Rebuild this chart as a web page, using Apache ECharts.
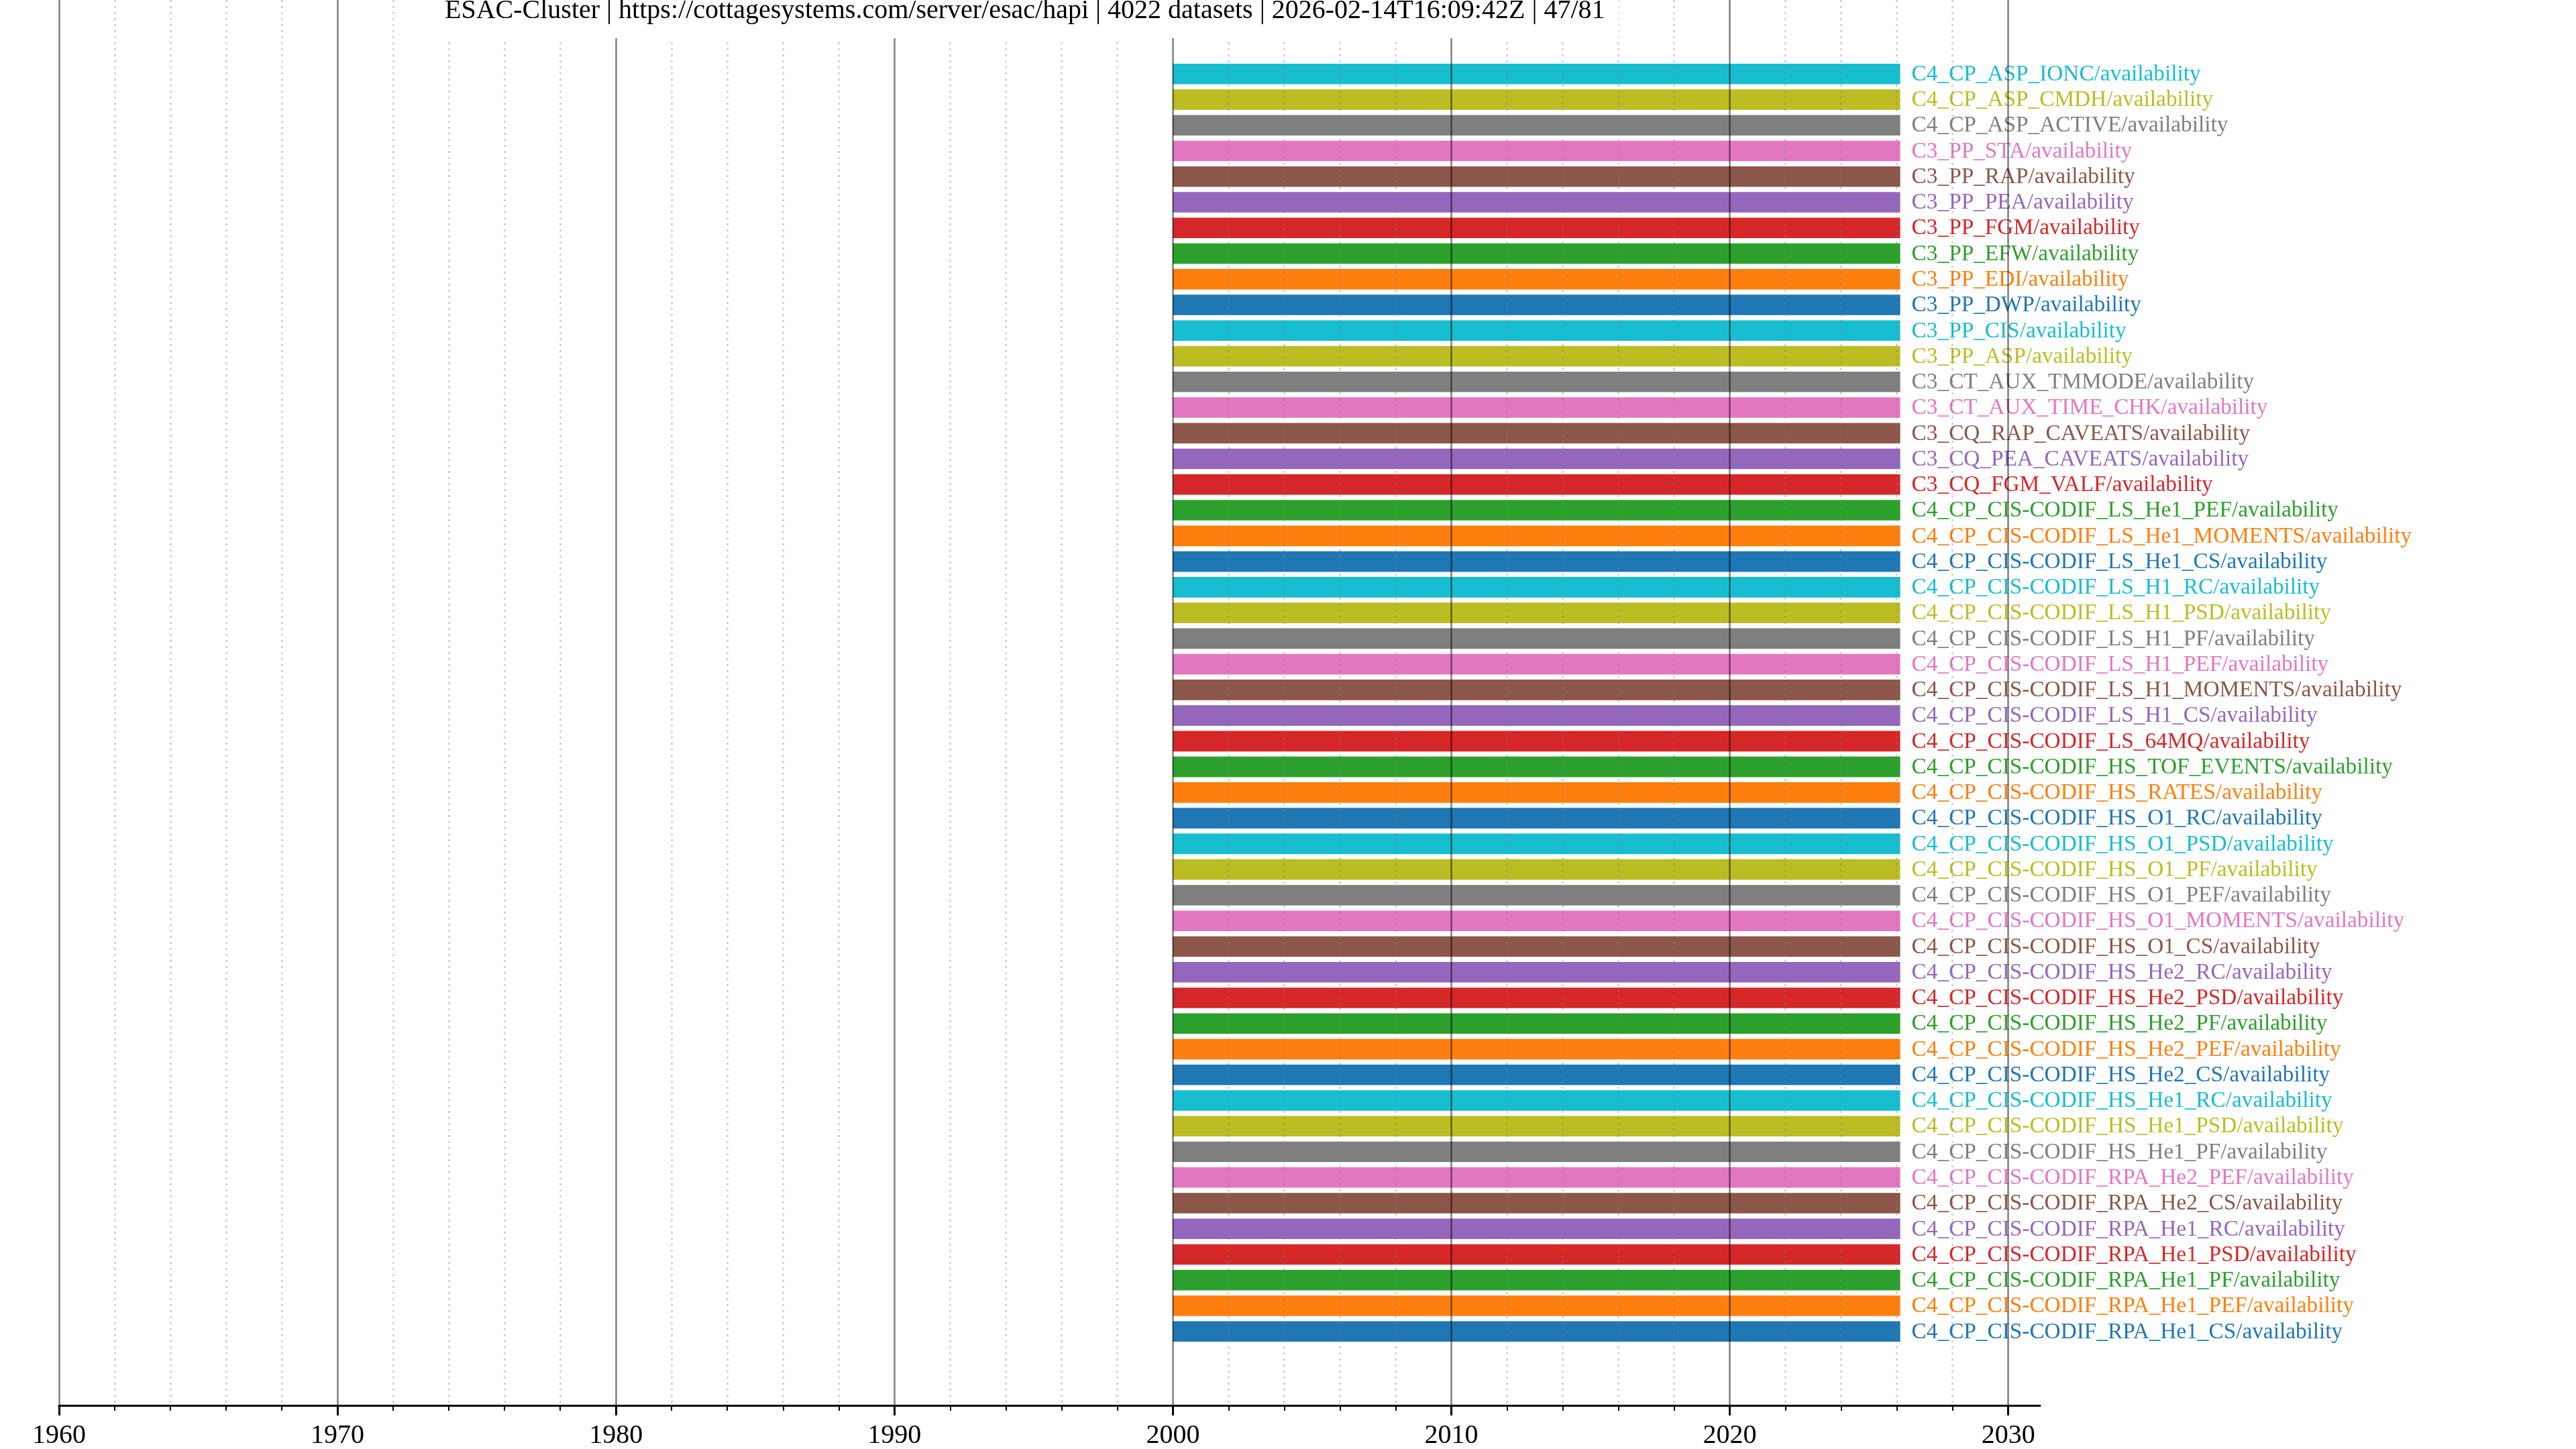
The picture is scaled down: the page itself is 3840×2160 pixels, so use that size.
<!DOCTYPE html>
<html>
<head>
<meta charset="utf-8">
<script src="https://cdn.jsdelivr.net/npm/echarts@6/dist/echarts.min.js"></script>
<style>
html,body{margin:0;padding:0;background:#fff;}
#chart{width:3840px;height:2160px;}
</style>
</head>
<body>
<div id="chart"></div>
<script>
// ---- data (top-to-bottom as displayed) ----
const titleText = 'ESAC-Cluster | https://cottagesystems.com/server/esac/hapi | 4022 datasets | 2026-02-14T16:09:42Z | 47/81';
const datasetNames = [
  'C4_CP_ASP_IONC/availability',
  'C4_CP_ASP_CMDH/availability',
  'C4_CP_ASP_ACTIVE/availability',
  'C3_PP_STA/availability',
  'C3_PP_RAP/availability',
  'C3_PP_PEA/availability',
  'C3_PP_FGM/availability',
  'C3_PP_EFW/availability',
  'C3_PP_EDI/availability',
  'C3_PP_DWP/availability',
  'C3_PP_CIS/availability',
  'C3_PP_ASP/availability',
  'C3_CT_AUX_TMMODE/availability',
  'C3_CT_AUX_TIME_CHK/availability',
  'C3_CQ_RAP_CAVEATS/availability',
  'C3_CQ_PEA_CAVEATS/availability',
  'C3_CQ_FGM_VALF/availability',
  'C4_CP_CIS-CODIF_LS_He1_PEF/availability',
  'C4_CP_CIS-CODIF_LS_He1_MOMENTS/availability',
  'C4_CP_CIS-CODIF_LS_He1_CS/availability',
  'C4_CP_CIS-CODIF_LS_H1_RC/availability',
  'C4_CP_CIS-CODIF_LS_H1_PSD/availability',
  'C4_CP_CIS-CODIF_LS_H1_PF/availability',
  'C4_CP_CIS-CODIF_LS_H1_PEF/availability',
  'C4_CP_CIS-CODIF_LS_H1_MOMENTS/availability',
  'C4_CP_CIS-CODIF_LS_H1_CS/availability',
  'C4_CP_CIS-CODIF_LS_64MQ/availability',
  'C4_CP_CIS-CODIF_HS_TOF_EVENTS/availability',
  'C4_CP_CIS-CODIF_HS_RATES/availability',
  'C4_CP_CIS-CODIF_HS_O1_RC/availability',
  'C4_CP_CIS-CODIF_HS_O1_PSD/availability',
  'C4_CP_CIS-CODIF_HS_O1_PF/availability',
  'C4_CP_CIS-CODIF_HS_O1_PEF/availability',
  'C4_CP_CIS-CODIF_HS_O1_MOMENTS/availability',
  'C4_CP_CIS-CODIF_HS_O1_CS/availability',
  'C4_CP_CIS-CODIF_HS_He2_RC/availability',
  'C4_CP_CIS-CODIF_HS_He2_PSD/availability',
  'C4_CP_CIS-CODIF_HS_He2_PF/availability',
  'C4_CP_CIS-CODIF_HS_He2_PEF/availability',
  'C4_CP_CIS-CODIF_HS_He2_CS/availability',
  'C4_CP_CIS-CODIF_HS_He1_RC/availability',
  'C4_CP_CIS-CODIF_HS_He1_PSD/availability',
  'C4_CP_CIS-CODIF_HS_He1_PF/availability',
  'C4_CP_CIS-CODIF_RPA_He2_PEF/availability',
  'C4_CP_CIS-CODIF_RPA_He2_CS/availability',
  'C4_CP_CIS-CODIF_RPA_He1_RC/availability',
  'C4_CP_CIS-CODIF_RPA_He1_PSD/availability',
  'C4_CP_CIS-CODIF_RPA_He1_PF/availability',
  'C4_CP_CIS-CODIF_RPA_He1_PEF/availability',
  'C4_CP_CIS-CODIF_RPA_He1_CS/availability'
];
// start / stop in decimal years
const startYears = [
  2000,2000,2000,2000,2000,2000,2000,2000,2000,2000,
  2000,2000,2000,2000,2000,2000,2000,2000,2000,2000,
  2000,2000,2000,2000,2000,2000,2000,2000,2000,2000,
  2000,2000,2000,2000,2000,2000,2000,2000,2000,2000,
  2000,2000,2000,2000,2000,2000,2000,2000,2000,2000
];
const stopYears = [
  2026.12,2026.12,2026.12,2026.12,2026.12,2026.12,2026.12,2026.12,2026.12,2026.12,
  2026.12,2026.12,2026.12,2026.12,2026.12,2026.12,2026.12,2026.12,2026.12,2026.12,
  2026.12,2026.12,2026.12,2026.12,2026.12,2026.12,2026.12,2026.12,2026.12,2026.12,
  2026.12,2026.12,2026.12,2026.12,2026.12,2026.12,2026.12,2026.12,2026.12,2026.12,
  2026.12,2026.12,2026.12,2026.12,2026.12,2026.12,2026.12,2026.12,2026.12,2026.12
];
const majorTickYears = [1960, 1970, 1980, 1990, 2000, 2010, 2020, 2030];
const minorTickYears = [1962,1964,1966,1968,1972,1974,1976,1978,1982,1984,1986,1988,
  1992,1994,1996,1998,2002,2004,2006,2008,2012,2014,2016,2018,2022,2024,2026,2028];

// ---- styles ----
const palette = ['#1f77b4','#ff7f0e','#2ca02c','#d62728','#9467bd','#8c564b','#e377c2','#7f7f7f','#bcbd22','#17becf'];
const FONT = '"Liberation Serif", "Times New Roman", serif';
const X_MIN = 1960, X_MAX = 2031.14;
const N = datasetNames.length;

const seriesData = datasetNames.map((name, i) => {
  const yIdx = N - 1 - i;
  return { value: [startYears[i], stopYears[i], yIdx], name: name };
});

function renderItem(params, api) {
  const yi = api.value(2);
  const s = api.coord([api.value(0), yi]);
  const e = api.coord([api.value(1), yi]);
  const h = api.size([0, 1])[1] * 0.8;
  const color = palette[yi % 10];
  const name = seriesData[params.dataIndex].name;
  return {
    type: 'group',
    children: [
      { type: 'rect', shape: { x: s[0], y: s[1] - h / 2, width: e[0] - s[0], height: h }, style: { fill: color } },
      { type: 'text', x: e[0] + 17, y: s[1] + 1,
        style: { text: name, fill: color, font: '33.3px ' + FONT, verticalAlign: 'middle', align: 'left' } }
    ]
  };
}

const chart = echarts.init(document.getElementById('chart'), null, { renderer: 'canvas' });
chart.setOption({
  animation: false,
  backgroundColor: '#ffffff',
  title: {
    text: titleText,
    left: 643,
    top: -10,
    padding: [6, 20, 21, 20],
    backgroundColor: '#ffffff',
    z: 20,
    textStyle: { fontFamily: FONT, fontSize: 40, fontWeight: 'normal', color: '#000' }
  },
  grid: { left: 88, right: 3840 - 3041, top: 0, bottom: 2160 - 2095, containLabel: false },
  xAxis: [
    {
      type: 'value', min: X_MIN, max: X_MAX, position: 'bottom', z: 5,
      axisLine: { show: true, onZero: false, lineStyle: { color: '#000', width: 3 } },
      axisTick: { show: true, customValues: majorTickYears, length: 15, lineStyle: { color: '#000', width: 3 } },
      axisLabel: { show: true, customValues: majorTickYears, margin: 25, fontFamily: FONT, fontSize: 40, color: '#000',
        formatter: v => String(v) },
      splitLine: { show: true, lineStyle: { color: 'rgba(0,0,0,0.5)', width: 2.5, type: 'solid' } }
    },
    {
      type: 'value', min: X_MIN, max: X_MAX, position: 'bottom', z: 4,
      axisLine: { show: false, onZero: false },
      axisTick: { show: true, customValues: minorTickYears, length: 8, lineStyle: { color: '#000', width: 2 } },
      axisLabel: { show: false },
      splitLine: { show: true, lineStyle: { color: 'rgba(128,128,128,0.4)', width: 2.5, type: [3, 6] } }
    }
  ],
  yAxis: { type: 'value', min: -2.88, max: 51.88, show: false, splitLine: { show: false } },
  series: [{
    type: 'custom',
    xAxisIndex: 0,
    renderItem: renderItem,
    encode: { x: [0, 1], y: 2 },
    clip: false,
    z: 2,
    data: seriesData
  }]
});
</script>
</body>
</html>
